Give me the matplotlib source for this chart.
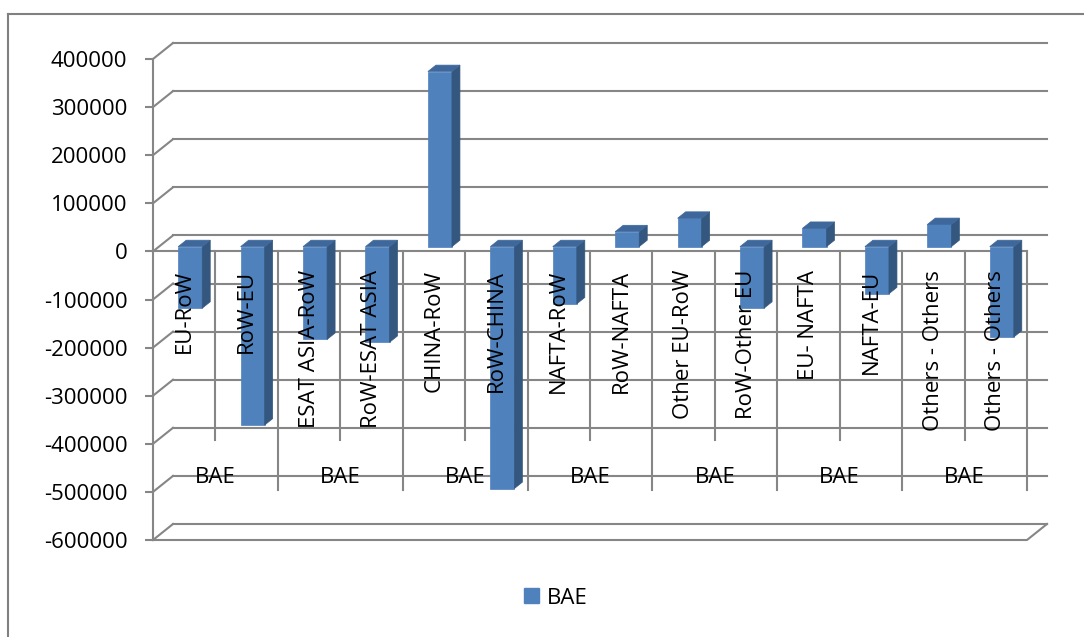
import matplotlib
matplotlib.use("Agg")
import matplotlib.pyplot as plt
from matplotlib.patches import Polygon, Patch
from matplotlib.lines import Line2D

# ---------------- data ----------------
categories = ['EU-RoW', 'RoW-EU', 'ESAT ASIA-RoW', 'RoW-ESAT ASIA', 'CHINA-RoW', 'RoW-CHINA',
              'NAFTA-RoW', 'RoW-NAFTA', 'Other EU-RoW', 'RoW-Other EU', 'EU- NAFTA', 'NAFTA-EU',
              'Others - Others', 'Others - Others']
groups = ['BAE', 'BAE', 'BAE', 'BAE', 'BAE', 'BAE', 'BAE']
series_name = 'BAE'
values = [-128000, -371000, -193000, -199000, 364000, -503000,
          -119000, 31000, 59000, -128000, 38000, -98000, 46000, -188000]
yticks = [400000, 300000, 200000, 100000, 0, -100000, -200000, -300000, -400000, -500000, -600000]
ytick_labels = [str(v) for v in yticks]

# ---------------- style ----------------
plt.rcParams['font.family'] = ['Open Sans', 'DejaVu Sans']
FS = 16
GRID = '#868686'
FRONT = '#4F81BD'
SIDE = '#34577F'
TOP = '#3E689C'

W, H = 1084, 637
fig = plt.figure(figsize=(W / 100, H / 100), dpi=100)
left_px, right_px, top_px, bot_px = 153, 1027, 59, 540
ax = fig.add_axes([left_px / W, 1 - bot_px / H, (right_px - left_px) / W, (bot_px - top_px) / H])
n = len(categories)
ymin, ymax = -600000, 400000
ax.set_xlim(0, n)
ax.set_ylim(ymin, ymax)
ax.patch.set_visible(False)

ux = (right_px - left_px) / n          # px per category
uy = (bot_px - top_px) / (ymax - ymin)  # px per value unit

def dx(px):
    return px / ux

def dy(px):
    return px / uy

# back wall offset and bar plane offsets
BX, BY = dx(20), dy(16)
PX, PY = dx(6), dy(4.8)
DX, DY = dx(8), dy(6.4)

# gridlines on back wall + diagonals on side wall
for v in yticks:
    ax.plot([0, BX], [v, v + BY], color=GRID, lw=1.5, clip_on=False, zorder=1)
    ax.plot([BX, n + BX], [v + BY, v + BY], color=GRID, lw=1.5, clip_on=False, zorder=1)
# floor
ax.plot([0, n, n + BX], [ymin, ymin, ymin + BY], color=GRID, lw=1.5, clip_on=False, zorder=1)

# category axis line at zero (front)
ax.plot([0, n], [0, 0], color=GRID, lw=1.5, clip_on=False, zorder=1.5)

# bars (3D look)
w = 0.385
for i, v in enumerate(values):
    xc = i + 0.5 + PX
    x0, x1 = xc - w / 2, xc + w / 2
    b0 = PY
    front = Polygon([(x0, b0), (x1, b0), (x1, b0 + v), (x0, b0 + v)], closed=True,
                    facecolor=FRONT, edgecolor=FRONT, lw=0.5, zorder=3, clip_on=False)
    side = Polygon([(x1, b0), (x1, b0 + v), (x1 + DX, b0 + v + DY), (x1 + DX, b0 + DY)], closed=True,
                   facecolor=SIDE, edgecolor=SIDE, lw=0.5, zorder=3, clip_on=False)
    t = b0 + max(v, 0)
    top = Polygon([(x0, t), (x1, t), (x1 + DX, t + DY), (x0 + DX, t + DY)], closed=True,
                  facecolor=TOP, edgecolor=TOP, lw=0.5, zorder=3, clip_on=False)
    for p in (front, side, top):
        ax.add_patch(p)

# category table lines
xt = ax.get_xaxis_transform()
def frac(py):
    return (bot_px - py) / (bot_px - top_px)
zero_frac = (0 - ymin) / (ymax - ymin)
for k in range(1, n + 1):
    yb = frac(490) if k % 2 == 0 else frac(440)
    ax.plot([k, k], [zero_frac, yb], color=GRID, lw=1.5, transform=xt, clip_on=False, zorder=2)

# category labels
for i, c in enumerate(categories):
    ax.text(i + 0.5, frac(270), c, rotation=90, ha='center', va='top', fontsize=FS,
            transform=xt, zorder=5)
for g, gname in enumerate(groups):
    ax.text(2 * g + 1, frac(483), gname, ha='center', va='baseline', fontsize=FS,
            transform=xt, zorder=5)

# axes styling
for s in ('top', 'right', 'bottom'):
    ax.spines[s].set_visible(False)
ax.spines['left'].set_color(GRID)
ax.spines['left'].set_linewidth(1.5)
ax.set_xticks([])
ax.set_yticks(yticks)
ax.set_yticklabels(ytick_labels, fontsize=FS)
ax.tick_params(axis='y', direction='out', length=5.5, width=1.5, color=GRID, pad=13)

# legend
fig.legend(handles=[Patch(facecolor=FRONT, edgecolor=FRONT, label=series_name)],
           loc='center', bbox_to_anchor=(556 / W, 1 - 598 / H), frameon=False,
           fontsize=FS, handlelength=0.68, handleheight=0.68, handletextpad=0.35, borderpad=0)

# chart area border (partially visible)
fig.add_artist(Line2D([8 / W, 8 / W], [0, 1 - 14 / H], transform=fig.transFigure, color='#808080', lw=1.5))
fig.add_artist(Line2D([8 / W, 1], [1 - 14 / H, 1 - 14 / H], transform=fig.transFigure, color='#808080', lw=1.5))

fig.savefig('out.png', dpi=100)
